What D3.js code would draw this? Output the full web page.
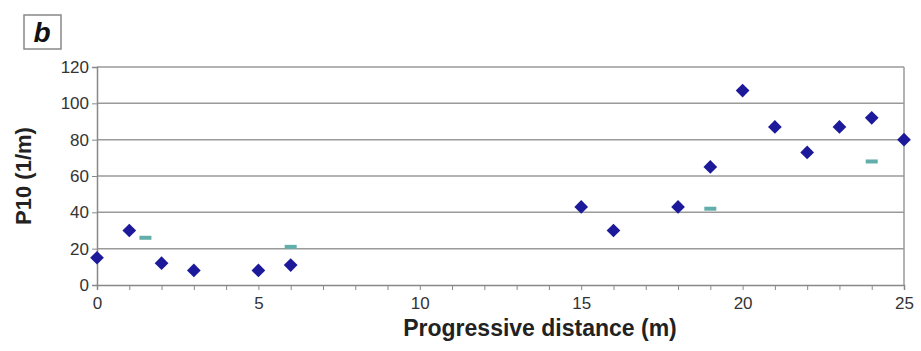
<!DOCTYPE html>
<html>
<head>
<meta charset="utf-8">
<script src="https://cdn.jsdelivr.net/npm/d3@7"></script>
<style>
  body { margin: 0; background: #fff; }
  text { font-family: "Liberation Sans", Arial, sans-serif; }
</style>
</head>
<body>
<div id="chart"></div>
<script>
// Data
const distances = [0, 1, 2, 3, 5, 6, 15, 16, 18, 19, 20, 21, 22, 23, 24, 25];
const p10Values = [15, 30, 12, 8, 8, 11, 43, 30, 43, 65, 107, 87, 73, 87, 92, 80];
const dashDistances = [1.5, 6, 19, 24];
const dashValues = [26, 21, 42, 68];
const xTicks = [0, 5, 10, 15, 20, 25];
const yTicks = [0, 20, 40, 60, 80, 100, 120];

const W = 921, H = 351;
const margin = {top: 67, right: 17, bottom: 66, left: 97};
const width = W - margin.left - margin.right;
const height = H - margin.top - margin.bottom;

const svg = d3.select("#chart")
    .append("svg")
    .attr("width", W)
    .attr("height", H);

// Panel label
svg.append("rect")
    .attr("x", 24).attr("y", 15)
    .attr("width", 37).attr("height", 34)
    .attr("fill", "#fff")
    .attr("stroke", "#888")
    .attr("stroke-width", 1.5);
svg.append("text")
    .attr("x", 42).attr("y", 42)
    .attr("text-anchor", "middle")
    .attr("font-size", 28)
    .attr("font-weight", "bold")
    .attr("font-style", "italic")
    .attr("fill", "#111")
    .text("b");

const g = svg.append("g")
    .attr("transform", `translate(${margin.left},${margin.top})`);

const x = d3.scaleLinear().domain([0, 25]).range([0, width]);
const y = d3.scaleLinear().domain([0, 120]).range([height, 0]);

// Gridlines
g.selectAll(".grid")
    .data(yTicks.filter(d => d > 0))
    .enter()
    .append("line")
    .attr("x1", 0).attr("x2", width)
    .attr("y1", d => y(d)).attr("y2", d => y(d))
    .attr("stroke", "#9a9a9a")
    .attr("stroke-width", 1.5);

// Right border
g.append("line")
    .attr("x1", width).attr("x2", width)
    .attr("y1", 0).attr("y2", height)
    .attr("stroke", "#9a9a9a")
    .attr("stroke-width", 1.5);

// X axis with minor ticks
const xAxis = g.append("g")
    .attr("transform", `translate(0,${height})`)
    .call(d3.axisBottom(x).tickValues(d3.range(0, 26)).tickSize(5)
        .tickFormat(d => xTicks.includes(d) ? d : ""));
xAxis.select(".domain").attr("stroke", "#888").attr("stroke-width", 1.5);
xAxis.selectAll(".tick line").attr("stroke", "#888");
xAxis.selectAll(".tick text")
    .attr("font-size", 17)
    .attr("fill", "#333")
    .attr("dy", "0.95em");

// Y axis
const yAxis = g.append("g")
    .call(d3.axisLeft(y).tickValues(yTicks).tickSize(5));
yAxis.select(".domain").attr("stroke", "#888").attr("stroke-width", 1.5);
yAxis.selectAll(".tick line").attr("stroke", "#888");
yAxis.selectAll(".tick text")
    .attr("font-size", 17)
    .attr("fill", "#333")
    .attr("x", -8);

// Cyan dashes
g.selectAll(".dash")
    .data(dashDistances)
    .enter()
    .append("rect")
    .attr("x", d => x(d) - 6)
    .attr("y", (d, i) => y(dashValues[i]) - 2)
    .attr("width", 12)
    .attr("height", 4)
    .attr("fill", "#62aeaa");

// Blue diamonds
g.selectAll(".pt")
    .data(distances)
    .enter()
    .append("path")
    .attr("d", d3.symbol().type(d3.symbolDiamond2).size(120))
    .attr("transform", (d, i) => `translate(${x(d)},${y(p10Values[i])})`)
    .attr("fill", "#1c1a9a");

// Axis titles
svg.append("text")
    .attr("transform", `translate(31,${margin.top + height / 2}) rotate(-90)`)
    .attr("text-anchor", "middle")
    .attr("font-size", 22)
    .attr("font-weight", "bold")
    .attr("fill", "#222")
    .text("P10 (1/m)");

svg.append("text")
    .attr("x", 540)
    .attr("y", 336)
    .attr("text-anchor", "middle")
    .attr("font-size", 23)
    .attr("font-weight", "bold")
    .attr("fill", "#222")
    .text("Progressive distance (m)");
</script>
</body>
</html>
